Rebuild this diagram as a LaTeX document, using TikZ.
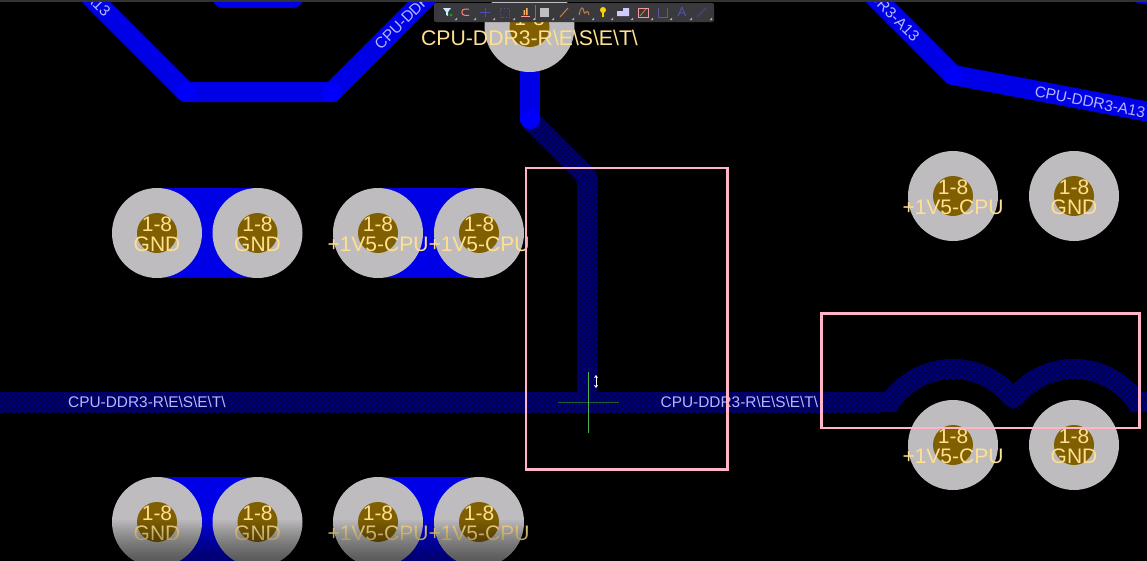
\documentclass[tikz,border=0pt]{standalone}
\usepackage{fontspec}
\setmainfont{Liberation Sans}
\usepackage{tikz}
\usetikzlibrary{patterns,arrows.meta}
\definecolor{board}{HTML}{000000}
\definecolor{copper}{HTML}{0000E6}
\definecolor{joint}{HTML}{0000FA}
\definecolor{padgrey}{HTML}{BEBCBE}
\definecolor{drill}{HTML}{7F5F00}
\definecolor{padtext}{HTML}{FFE090}
\definecolor{nettext}{HTML}{B4B8FF}
\definecolor{hatchbg}{HTML}{000038}
\definecolor{hatchfg}{HTML}{00008A}
\definecolor{frame}{HTML}{FFB4C8}
\definecolor{toolbar}{HTML}{3A3A3E}
\definecolor{crossH}{HTML}{1F5F2F}
\definecolor{crossV}{HTML}{4CAF50}
\tikzstyle{track}=[draw=copper,line width=20pt,line cap=round,line join=round]
\tikzstyle{hatched}=[preaction={fill=hatchbg},pattern=crosshatch,pattern color=hatchfg]
\tikzstyle{pad}=[circle,fill=padgrey,minimum size=90pt,inner sep=0pt]
\tikzstyle{hole}=[circle,fill=drill,minimum size=40pt,inner sep=0pt]
\tikzstyle{padlabel}=[text=padtext,font=\fontsize{21}{21}\selectfont,inner sep=0pt]
\tikzstyle{netlabel}=[text=nettext,font=\fontsize{15.4}{15.4}\selectfont,inner sep=0pt]
\tikzstyle{marker}=[draw=frame,line width=2.6pt]
\begin{document}
\begin{tikzpicture}[x=1pt,y=-1pt]
\useasboundingbox (0,0) rectangle (1147,560);
\fill[board] (-3,-3) rectangle (1150,563);
% solid tracks
\coordinate (bendA) at (186,92);
\coordinate (bendB) at (332,92);
\coordinate (bendC) at (953,75);
\coordinate (stub) at (530,119);
\draw[track] (86,-8) -- (bendA) -- (bendB) -- (432,-8);
\draw[track] (223,-2) -- (293,-2);
\draw[track] (870,-8) -- (bendC) -- (1160,114);
\draw[track] (1110,-13) -- (1160,-3);
\foreach \bend in {bendA,bendB,bendC} {
  \fill[joint] (\bend) circle (10pt);
}
\fill[copper] (157,188) rectangle (257.5,278);
\fill[copper] (378,188) rectangle (479,278);
\fill[copper] (157,477) rectangle (257.5,567);
\fill[copper] (378,477) rectangle (479,567);
% hatched tracks
\path[hatched,rounded corners=2pt] (523,127) -- (537,113) -- (597,173) -- (597,412) -- (577,412) -- (577,181) -- cycle;
\path[hatched] (0,392) rectangle (880,412);
\path[hatched] (880,392) -- (885,392)
  arc[start angle=218,end angle=314.8,radius=86]
  arc[start angle=225.2,end angle=322,radius=86] -- (1147,392) -- (1147,412) -- (1131.2,412)
  arc[start angle=330,end angle=218,radius=66] -- (1013.5,409) -- (1005,404.4)
  arc[start angle=322,end angle=210,radius=66] -- (880,412) -- cycle;
\draw[track] (stub) -- (530,40);
\fill[joint] (stub) circle (10pt);
% pads
\foreach \name/\px/\py/\net in {a/157/233/GND,b/257.5/233/GND,c/378/233/+1V5-CPU,d/479/233/+1V5-CPU,
  e/157/522/GND,f/257.5/522/GND,g/378/522/+1V5-CPU,h/479/522/+1V5-CPU,
  i/953/196/+1V5-CPU,j/1074/196/GND,k/953/445/+1V5-CPU,l/1074/445/GND} {
  \node[pad] (pad\name) at (\px,\py) {};
  \node[hole] (hole\name) at (pad\name) {};
  \node[padlabel] (num\name) at (\px,\py-8.5) {1-8};
  \node[padlabel] (net\name) at (\px,\py+11) {\net};
}
\node[pad] (padtop) at (529.5,27) {};
\node[hole] (holetop) at (padtop) {};
\node[padlabel] (numtop) at (529.5,18.5) {1-8};
\node[padlabel,font=\fontsize{21.2}{21.2}\selectfont] (nettop) at (529.5,38) {CPU-DDR3-R\textbackslash E\textbackslash S\textbackslash E\textbackslash T\textbackslash};
% net names
\node[netlabel,anchor=west] (resetA) at (68,402) {CPU-DDR3-R\textbackslash E\textbackslash S\textbackslash E\textbackslash T\textbackslash};
\node[netlabel,anchor=west] (resetB) at (660.5,402) {CPU-DDR3-R\textbackslash E\textbackslash S\textbackslash E\textbackslash T\textbackslash};
\node[netlabel,rotate=-11.3] (addrA) at (1090,102) {CPU-DDR3-A13};
\node[netlabel,rotate=-45,anchor=east] (addrB) at (917,39) {CPU-DDR3-A13};
\node[netlabel,rotate=-45,anchor=east] (addrC) at (108,14) {CPU-DDR3-A13};
\node[netlabel,rotate=45,anchor=west] (addrD) at (377,47) {CPU-DDR3-A13};
% selection frames
\draw[marker] (526,168) rectangle (727.5,469.5);
\draw[marker] (821.5,313.5) rectangle (1139.5,428);
% cursor
\coordinate (crossN) at (588.5,372);
\coordinate (crossS) at (588.5,433);
\coordinate (crossW) at (558,402);
\coordinate (crossE) at (619,402);
\draw[color=crossH,line width=1pt] (crossW) -- (crossE);
\draw[color=crossV,line width=1pt] (crossN) -- (crossS);
\coordinate (beamT) at (596,375);
\coordinate (beamB) at (596,388);
\draw[white,line width=1pt,{Stealth[length=3pt,width=4pt]}-{Stealth[length=3pt,width=4pt]}] (beamT) -- (beamB);
% bottom dimming
\foreach \k in {0,...,19} {
  \fill[black,opacity=0.03] (0,520+2*\k) rectangle (1147,563);
}
% toolbar
\fill[color=black!80!white] (0,0) rectangle (1147,1.5);
\node[fill=toolbar,rounded corners=2pt,minimum width=280pt,minimum height=19pt,inner sep=0pt] (bar) at (574,12.5) {};
\foreach \ix in {447,466,485,505,525,544,564,584,603,623,643,662,682,702} {
  \fill[color=white!60!toolbar] (\ix+10,20) -- (\ix+10,17.5) -- (\ix+7.5,20) -- cycle;
}
\draw[color=white!30!toolbar] (535.5,5) -- (535.5,20);
\fill[color=white!80!cyan] (443,8) -- (451,8) -- (448,12) -- (448,16) -- (446,15) -- (446,12) -- cycle;
\fill[color=green!70!black] (451,15) circle (1.5pt);
\draw[color=red!50!white,line width=1pt] (469,9) -- (465,9) arc[start angle=270,end angle=90,radius=3.2] -- (469,15.4);
\draw[color=blue!40!gray,line width=.8pt] (480,12.5) -- (490,12.5) (485,8) -- (485,17);
\draw[color=blue!35!gray,dotted,line width=.8pt] (500.5,8.5) rectangle (509.5,17);
\draw[color=red!40!white,line width=1pt] (521,16) -- (530,16);
\fill[color=orange!60!white] (523.5,10) rectangle (525,15) (526,8) rectangle (527.5,15);
\fill[color=gray!50!white] (539.5,8) rectangle (549,17);
\draw[color=orange!60!gray,line width=1pt] (560,17) -- (568,8);
\draw[color=orange!50!gray,line width=1pt] (579,15) .. controls (581,6) and (583,6) .. (584,12) .. controls (585,17) and (587,6) .. (589,15);
\fill[color=yellow!70!orange] (603,10) circle (3pt);
\fill[color=yellow!70!orange] (602,12) rectangle (604,17);
\fill[color=white!80!blue] (617,16) -- (617,11) -- (623,11) -- (623,8) -- (629,8) -- (629,16) -- cycle;
\draw[color=pink!80!purple,line width=.8pt] (638,8) rectangle (648,17.5);
\draw[color=orange!70!gray,line width=.8pt] (640,16) -- (646,9);
\draw[color=gray!70!blue,line width=.8pt] (658,8) -- (658,17) -- (667,17) -- (667,8);
\node[text=blue!35!gray,inner sep=0pt,font=\fontsize{13}{13}\selectfont] (iconA) at (682,12.5) {A};
\draw[color=blue!50!gray,line width=1pt] (697,17) -- (706,8);
\end{tikzpicture}
\end{document}
